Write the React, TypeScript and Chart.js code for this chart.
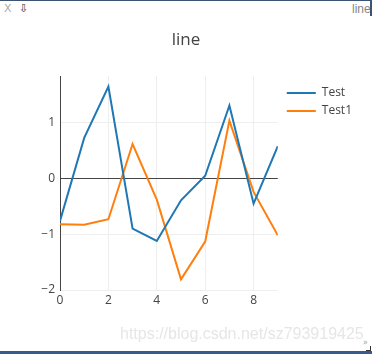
import React, { useEffect, useRef } from "react";
import { Chart, registerables } from "chart.js";

Chart.register(...registerables);

const X_VALUES = [0, 1, 2, 3, 4, 5, 6, 7, 8, 9];
const TEST = [-0.76, 0.73, 1.65, -0.9, -1.12, -0.39, 0.05, 1.31, -0.45, 0.58];
const TEST1 = [-0.82, -0.83, -0.73, 0.62, -0.38, -1.81, -1.13, 1.04, -0.24, -1.02];
const SERIES_NAMES = ["Test", "Test1"];
const X_TICKS = [0, 2, 4, 6, 8];
const Y_TICKS = [-2, -1, 0, 1];
const X_RANGE = [0, 9];
const Y_RANGE = [-2.0, 1.84];

const FONT = "'Open Sans', 'DejaVu Sans', sans-serif";

const legendShift = {
  id: "legendShift",
  afterLayout(chart: any) {
    const lg = chart.legend;
    if (lg) {
      lg.left += 3;
      lg.right += 3;
      lg.top += 5;
      lg.bottom += 5;
    }
  },
};

function fmt(v: number) {
  return v < 0 ? "\u2212" + Math.abs(v) : String(v);
}

export default function App() {
  const ref = useRef<HTMLCanvasElement | null>(null);

  useEffect(() => {
    document.body.style.margin = "0";
    const canvas = ref.current;
    if (!canvas) return;
    const chart = new Chart(canvas, {
      type: "line",
      data: {
        datasets: [
          {
            label: SERIES_NAMES[0],
            data: X_VALUES.map((x, i) => ({ x, y: TEST[i] })),
            borderColor: "#1f77b4",
            backgroundColor: "#1f77b4",
            borderWidth: 2,
            pointRadius: 0,
            tension: 0,
          },
          {
            label: SERIES_NAMES[1],
            data: X_VALUES.map((x, i) => ({ x, y: TEST1[i] })),
            borderColor: "#ff7f0e",
            backgroundColor: "#ff7f0e",
            borderWidth: 2,
            pointRadius: 0,
            tension: 0,
          },
        ],
      },
      options: {
        animation: false,
        responsive: false,
        maintainAspectRatio: false,
        layout: { padding: { left: 30, top: 76, right: 13, bottom: 44 } },
        plugins: {
          title: { display: false },
          tooltip: { enabled: false },
          legend: {
            position: "right",
            align: "start",
            fullSize: false,
            labels: {
              usePointStyle: true,
              pointStyle: "line",
              pointStyleWidth: 29,
              padding: 6,
              color: "#444",
              font: { family: FONT, size: 12 },
            },
          },
        },
        scales: {
          x: {
            type: "linear",
            min: X_RANGE[0],
            max: X_RANGE[1],
            afterBuildTicks: (s: any) => {
              s.ticks = X_TICKS.map((v) => ({ value: v }));
            },
            afterFit: (s: any) => {
              s.height = 20;
            },
            grid: { color: "#eee", lineWidth: 1, drawTicks: false },
            border: { display: false },
            ticks: {
              padding: 3,
              color: "#444",
              font: { family: FONT, size: 12 },
              maxRotation: 0,
              autoSkip: false,
              callback: (v: any) => fmt(Number(v)),
            },
          },
          y: {
            type: "linear",
            min: Y_RANGE[0],
            max: Y_RANGE[1],
            afterBuildTicks: (s: any) => {
              s.ticks = Y_TICKS.map((v) => ({ value: v }));
            },
            afterFit: (s: any) => {
              s.width = 30;
            },
            grid: {
              color: (c: any) => (c.tick && c.tick.value === 0 ? "#444" : "#eee"),
              lineWidth: 1,
              drawTicks: false,
            },
            border: { display: true, color: "#444", width: 1 },
            ticks: {
              padding: 5,
              color: "#444",
              font: { family: FONT, size: 12 },
              autoSkip: false,
              callback: (v: any) => fmt(Number(v)),
            },
          },
        },
      },
      plugins: [legendShift],
    } as any);
    return () => chart.destroy();
  }, []);

  return (
    <div style={{ position: "absolute", left: 0, top: 0, width: 372, height: 354, background: "#fff", overflow: "hidden" }}>
      <div style={{ position: "absolute", left: 0, top: 0, width: 372, height: 1, background: "#3d5372" }} />
      <div style={{ position: "absolute", left: 4, top: 2, fontFamily: "'DejaVu Sans', sans-serif", fontSize: 11, color: "#aaa" }}>X</div>
      <div style={{ position: "absolute", left: 19, top: 2, fontFamily: "'DejaVu Sans', sans-serif", fontSize: 11, color: "#333" }}>{"\u21E9\uFE0E"}</div>
      <div style={{ position: "absolute", left: 352, top: 2, fontFamily: "'Liberation Sans', Arial, sans-serif", fontSize: 12, color: "#888" }}>line</div>
      <div style={{ position: "absolute", left: 370, top: 0, width: 2, height: 16, background: "#3d5372" }} />
      <canvas ref={ref} width={372} height={354} style={{ position: "absolute", left: 0, top: 0, width: 372, height: 354 }} />
      <div style={{ position: "absolute", left: 0, top: 29, width: 372, textAlign: "center", fontFamily: FONT, fontSize: 17, color: "#444", lineHeight: "20px" }}>line</div>
      <div style={{ position: "absolute", left: 120, top: 325, fontFamily: "'Liberation Sans', Arial, sans-serif", fontSize: 16, color: "#e6e6e6", whiteSpace: "nowrap" }}>https://blog.csdn.net/sz793919425</div>
      <div style={{ position: "absolute", left: 363, top: 338, fontFamily: "'DejaVu Sans', sans-serif", fontSize: 8, color: "#8aa" }}>»</div>
      <div style={{ position: "absolute", left: 366, top: 346, width: 4, height: 4, borderRight: "1px solid #333", borderBottom: "1px solid #333" }} />
      <div style={{ position: "absolute", left: 0, top: 351, width: 372, height: 3, background: "#3b5a8c" }} />
    </div>
  );
}
